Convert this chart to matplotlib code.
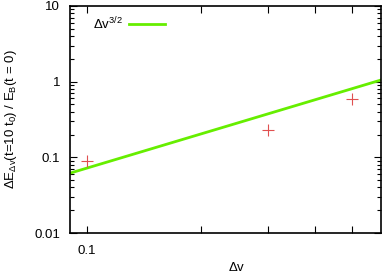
import numpy as np
import matplotlib.pyplot as plt
from matplotlib.ticker import LogLocator, FixedLocator, NullFormatter

plt.rcParams['font.family'] = ['Liberation Sans', 'DejaVu Sans']
plt.rcParams['mathtext.fontset'] = 'custom'
plt.rcParams['mathtext.rm'] = 'Liberation Sans'
plt.rcParams['mathtext.it'] = 'Liberation Sans'

# data
dv = [0.1, 0.3, 0.5]
dE = [0.089, 0.232, 0.583]
coef = 2.28          # prefactor of the dv^(3/2) guide line
x_line = [0.09, 0.6]
x_ticks = [0.1]
y_ticks = [0.01, 0.1, 1, 10]

fig = plt.figure(figsize=(3.82, 2.78), dpi=100)
ax = fig.add_axes([70 / 382, 1 - 233 / 278, 311 / 382, 227 / 278])

xl = np.array(x_line)
ax.plot(xl, coef * xl ** 1.5, color='#66ee00', lw=2, label=r'$\Delta$v$^{3/2}$')
ax.plot(dv, dE, '+', color='#e05050', ms=8, mew=0.8)

ax.set_xscale('log')
ax.set_yscale('log')
ax.set_xlim(0.0902, 0.597)
ax.set_ylim(0.01, 10)

ax.xaxis.set_major_locator(FixedLocator(x_ticks))
ax.xaxis.set_minor_locator(FixedLocator([0.2, 0.3, 0.4, 0.5]))
ax.xaxis.set_minor_formatter(NullFormatter())
ax.set_xticklabels(['0.1'])
ax.yaxis.set_major_locator(FixedLocator(y_ticks))
ax.yaxis.set_minor_locator(LogLocator(subs=np.arange(2, 10)))
ax.yaxis.set_minor_formatter(NullFormatter())
ax.set_yticklabels(['0.01', '0.1', '1', '10'])

ax.tick_params(which='both', direction='in', top=True, right=True, labelsize=9.5, width=0.8)
ax.tick_params(which='major', length=5)
ax.tick_params(axis='x', which='major', pad=9)
ax.tick_params(axis='y', which='major', pad=7)
ax.tick_params(axis='x', which='minor', length=5)
ax.tick_params(axis='y', which='minor', length=3)
for s in ax.spines.values():
    s.set_linewidth(1.2)

ax.set_xlabel(r'$\Delta$v', fontsize=9.5, va='center')
ax.xaxis.set_label_coords(0.537, -0.15)
ax.set_ylabel(r'$\Delta$E$_{\Delta\mathrm{v}}$(t=10 t$_0$) / E$_\mathrm{B}$(t = 0)', fontsize=9.5, labelpad=11)

leg = ax.legend(loc='upper left', frameon=False, fontsize=9.5, handlelength=2.8,
                handletextpad=0.4, borderaxespad=0.3, markerfirst=False,
                bbox_to_anchor=(0.045, 1.0))

fig.savefig('out.png', dpi=100)
